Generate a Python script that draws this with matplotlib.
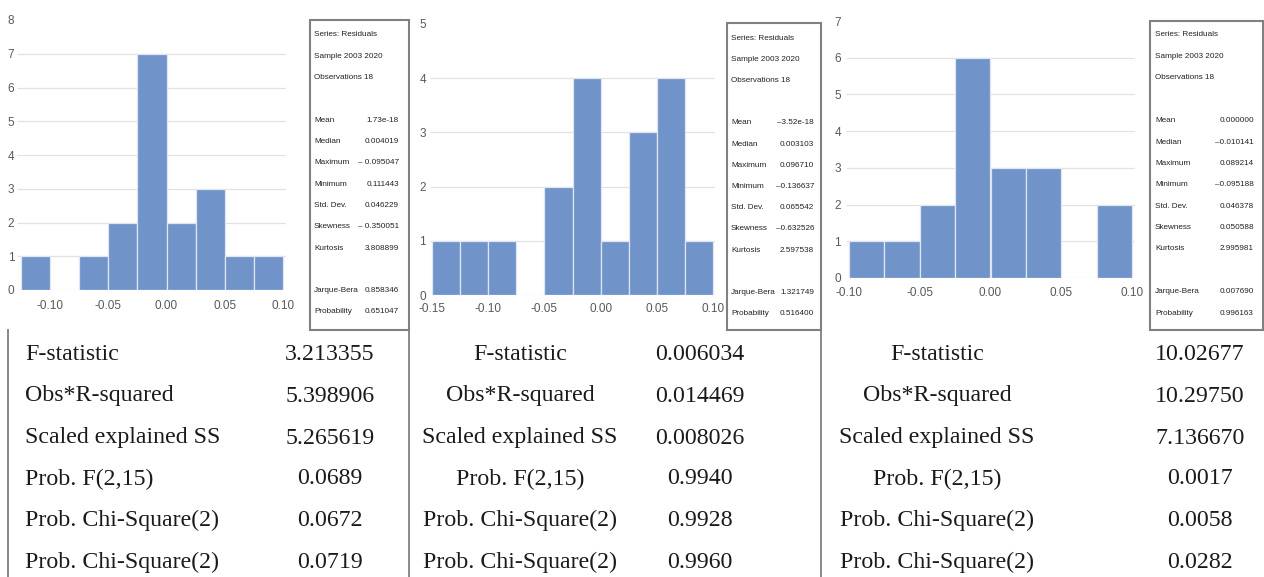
import matplotlib
matplotlib.use("Agg")
import matplotlib.pyplot as plt
from matplotlib.patches import Rectangle

W, H = 1264, 577

# residual histograms: left edge of each 0.025-wide bin and its count
bin_width = 0.025
bins_a = [-0.125, -0.100, -0.075, -0.050, -0.025, 0.000, 0.025, 0.050, 0.075]
counts_a = [1, 0, 1, 2, 7, 2, 3, 1, 1]
bins_b = [-0.150, -0.125, -0.100, -0.075, -0.050, -0.025, 0.000, 0.025, 0.050, 0.075]
counts_b = [1, 1, 1, 0, 2, 4, 1, 3, 4, 1]
bins_c = [-0.100, -0.075, -0.050, -0.025, 0.000, 0.025, 0.050, 0.075]
counts_c = [1, 1, 2, 6, 3, 3, 0, 2]

xticks_a = [-0.10, -0.05, 0.00, 0.05, 0.10]
xticks_b = [-0.15, -0.10, -0.05, 0.00, 0.05, 0.10]
xticks_c = [-0.10, -0.05, 0.00, 0.05, 0.10]
ymax_a, ymax_b, ymax_c = 8, 5, 7

# descriptive statistics boxes
stat_header = ["Series: Residuals", "Sample 2003 2020", "Observations 18"]
stat_names = ["Mean", "Median", "Maximum", "Minimum", "Std. Dev.", "Skewness", "Kurtosis"]
jb_names = ["Jarque-Bera", "Probability"]
stats_a = ["1.73e-18", "0.004019", "\u2013 0.095047", "0.111443", "0.046229", "\u2013 0.350051", "3.808899"]
jb_a = ["0.858346", "0.651047"]
stats_b = ["\u20133.52e-18", "0.003103", "0.096710", "\u20130.136637", "0.065542", "\u20130.632526", "2.597538"]
jb_b = ["1.321749", "0.516400"]
stats_c = ["0.000000", "\u20130.010141", "0.089214", "\u20130.095188", "0.046378", "0.050588", "2.995981"]
jb_c = ["0.007690", "0.996163"]

# heteroskedasticity test table
test_names = ["F-statistic", "Obs*R-squared", "Scaled explained SS",
              "Prob. F(2,15)", "Prob. Chi-Square(2)", "Prob. Chi-Square(2)"]
test_a = ["3.213355", "5.398906", "5.265619", "0.0689", "0.0672", "0.0719"]
test_b = ["0.006034", "0.014469", "0.008026", "0.9940", "0.9928", "0.9960"]
test_c = ["10.02677", "10.29750", "7.136670", "0.0017", "0.0058", "0.0282"]

BAR = "#7093c9"
GRID = "#e2e2e2"
TICK = "#595959"
BORDER = "#808080"
INK = "#222222"
SANS = ["Liberation Sans", "DejaVu Sans"]
SERIF = ["Liberation Serif", "DejaVu Serif"]
STAT_FS = 5.9

fig = plt.figure(figsize=(W / 100, H / 100), dpi=100)


def px_axes(left, top, right, bottom):
    return fig.add_axes([left / W, 1 - bottom / H, (right - left) / W, (bottom - top) / H])


def hist_panel(ax, bins, counts, xticks, ymax, xlim, ypad, xpad):
    ax.bar(bins, counts, width=bin_width, align="edge", color=BAR,
           edgecolor="#dfe6f2", linewidth=0.9, zorder=2)
    ax.set_xlim(*xlim)
    ax.set_ylim(0, ymax)
    ax.hlines(range(1, ymax), xlim[0], xlim[1], color=GRID, linewidth=0.9, zorder=1)
    ax.set_xticks(xticks)
    ax.set_xticklabels([f"{t:.2f}" for t in xticks])
    ax.set_yticks(range(ymax + 1))
    for s in ax.spines.values():
        s.set_visible(False)
    ax.tick_params(axis="both", length=0, labelsize=8.5, labelcolor=TICK)
    ax.tick_params(axis="y", pad=ypad)
    ax.tick_params(axis="x", pad=xpad)
    for lab in ax.get_xticklabels() + ax.get_yticklabels():
        lab.set_family(SANS)


ax_a = px_axes(17, 20, 286, 290)
hist_panel(ax_a, bins_a, counts_a, xticks_a, ymax_a, (-0.1284, 0.1026), 2, 7)
ax_b = px_axes(430, 24, 715, 295)
hist_panel(ax_b, bins_b, counts_b, xticks_b, ymax_b, (-0.1518, 0.1018), 3, 6)
ax_c = px_axes(846, 21, 1135, 278)
hist_panel(ax_c, bins_c, counts_c, xticks_c, ymax_c, (-0.1021, 0.1021), 3.5, 6.5)

# overlay in pixel coordinates for boxes, rules and table text
ov = fig.add_axes([0, 0, 1, 1])
ov.set_xlim(0, W)
ov.set_ylim(H, 0)
ov.axis("off")
ov.patch.set_alpha(0)

boxes = [
    # (left, top, right, label_x, value_x, first_row_y, row_step, stats, jb)
    (310, 20, 409, 314, 399, 35, 21.3, stats_a, jb_a),
    (727, 23, 821, 731, 814, 38, 21.2, stats_b, jb_b),
    (1150, 21, 1263, 1155, 1254, 35, 21.4, stats_c, jb_c),
]
for left, top, right, lx, vx, y0, step, stats, jb in boxes:
    ov.add_patch(Rectangle((left, top), right - left, 330 - top, fill=False,
                           edgecolor=BORDER, linewidth=1.5))
    for i, t in enumerate(stat_header):
        ov.text(lx, y0 + i * step, t, fontsize=STAT_FS, family=SANS, va="center", color=INK)
    rows = [(n, v, i + 4) for i, (n, v) in enumerate(zip(stat_names, stats))]
    rows += [(n, v, i + 12) for i, (n, v) in enumerate(zip(jb_names, jb))]
    for n, v, k in rows:
        y = y0 + k * step
        ov.text(lx, y, n, fontsize=STAT_FS, family=SANS, va="center", color=INK)
        ov.text(vx, y, v, fontsize=STAT_FS, family=SANS, va="center", ha="right", color=INK)

# table rules
for x in (8, 409, 821):
    ov.plot([x, x], [330, H], color=BORDER, linewidth=1.3)

TFS = 17.2
row_y = [355, 396, 438, 479, 520, 562]
for y, name, va_, vb_, vc_ in zip(row_y, test_names, test_a, test_b, test_c):
    ov.text(25, y, name, fontsize=TFS, family=SERIF, va="center", ha="left", color="#1a1a1a")
    ov.text(330, y, va_, fontsize=TFS, family=SERIF, va="center", ha="center", color="#1a1a1a")
    ov.text(520, y, name, fontsize=TFS, family=SERIF, va="center", ha="center", color="#1a1a1a")
    ov.text(700, y, vb_, fontsize=TFS, family=SERIF, va="center", ha="center", color="#1a1a1a")
    ov.text(937, y, name, fontsize=TFS, family=SERIF, va="center", ha="center", color="#1a1a1a")
    ov.text(1200, y, vc_, fontsize=TFS, family=SERIF, va="center", ha="center", color="#1a1a1a")

fig.savefig("out.png", dpi=100)
